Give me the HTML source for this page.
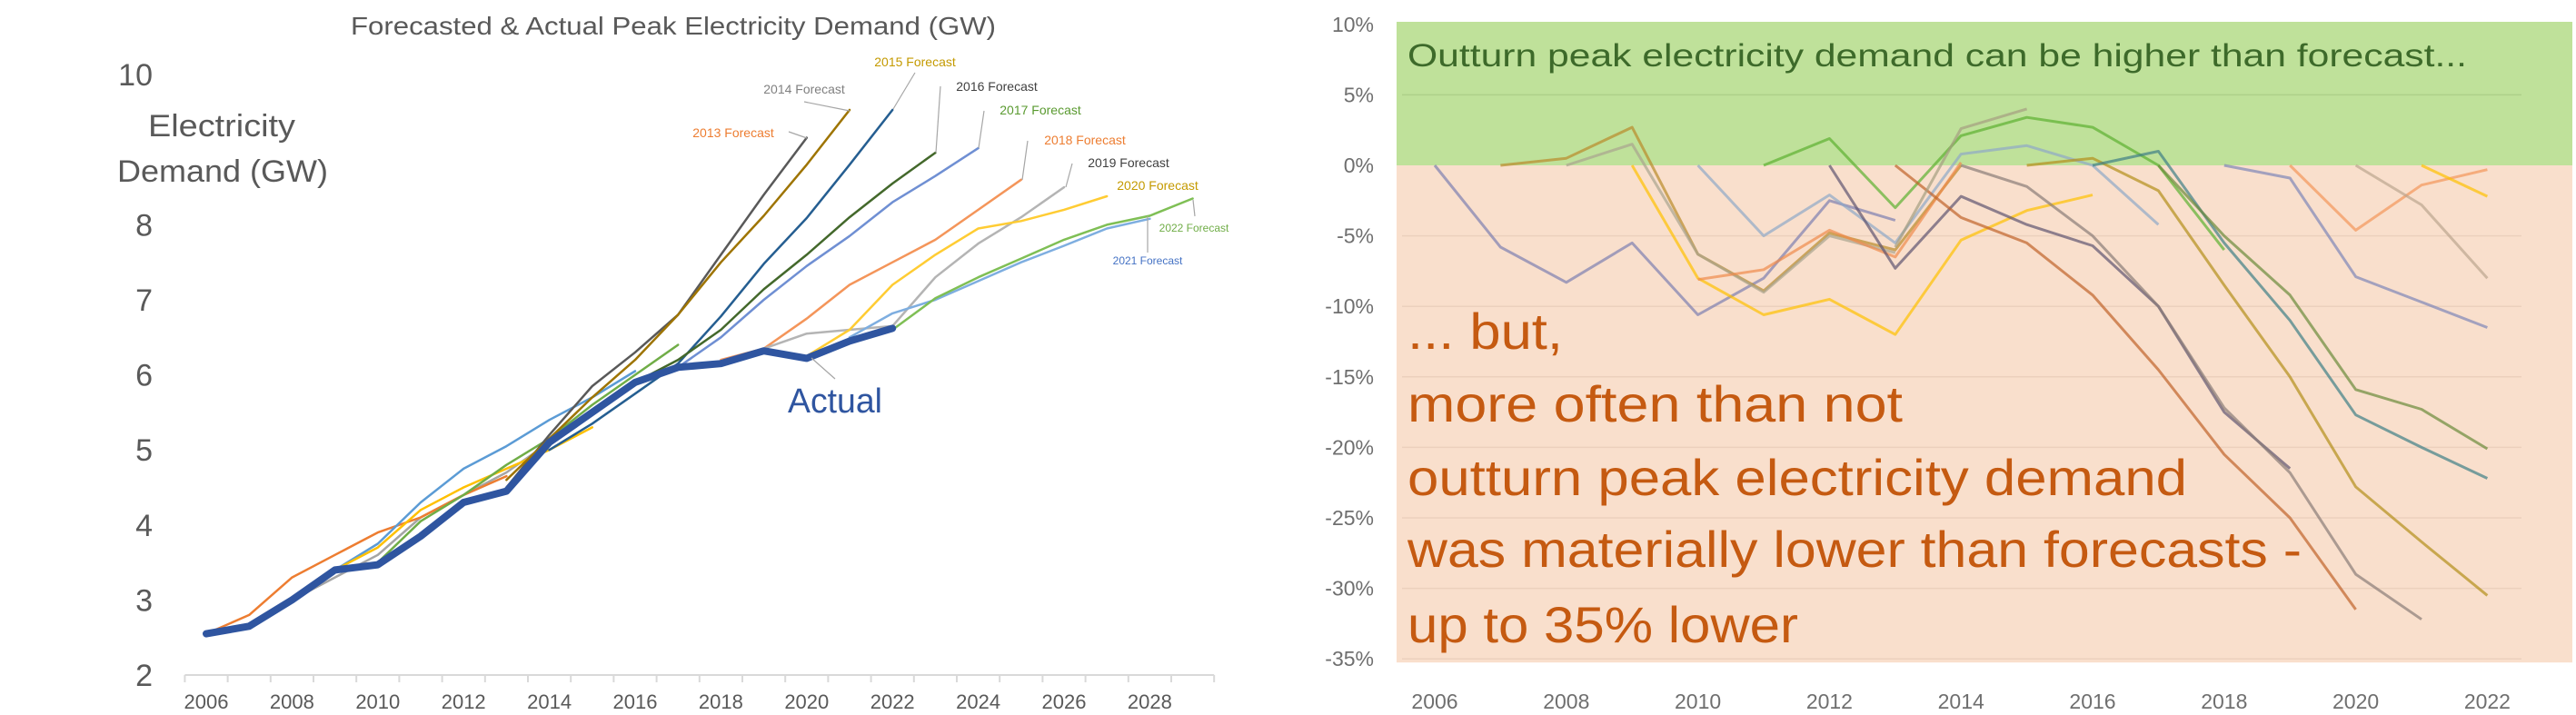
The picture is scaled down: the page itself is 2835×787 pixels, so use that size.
<!DOCTYPE html>
<html><head><meta charset="utf-8"><style>
html,body{margin:0;padding:0;background:#fff;}
svg{display:block;font-family:"Liberation Sans",sans-serif;}
</style></head><body>
<svg id="root" width="2835" height="787" viewBox="0 0 2835 787" xmlns="http://www.w3.org/2000/svg">
<g id="left">
  <text x="741" y="38" text-anchor="middle" font-size="28" fill="#595959" textLength="710" lengthAdjust="spacingAndGlyphs">Forecasted &amp; Actual Peak Electricity Demand (GW)</text>
  <text x="244" y="150" text-anchor="middle" font-size="34" fill="#595959" textLength="162" lengthAdjust="spacingAndGlyphs">Electricity</text>
  <text x="245" y="200" text-anchor="middle" font-size="34" fill="#595959" textLength="232" lengthAdjust="spacingAndGlyphs">Demand (GW)</text>
  <g id="lgrid"></g><g id="lseries"></g><g id="llabels"></g>
</g>
<g id="right">
  <g id="rbg"></g><g id="rseries"></g><g id="rlabels"></g>
</g>
</svg>
<script>
const NS='http://www.w3.org/2000/svg';
function mk(tag,attrs,parent){const e=document.createElementNS(NS,tag);for(const k in attrs)e.setAttribute(k,attrs[k]);parent.appendChild(e);return e;}

// ---------- LEFT CHART DATA ----------
const leftYears=[2006,2007,2008,2009,2010,2011,2012,2013,2014,2015,2016,2017,2018,2019,2020,2021,2022,2023,2024,2025,2026,2027,2028,2029];
const leftYTicks=[2,3,4,5,6,7,8,10];
const leftXTickLabels=[2006,2008,2010,2012,2014,2016,2018,2020,2022,2024,2026,2028];
const actualStart=2006;
const actualValues=[2.55,2.65,3.0,3.4,3.47,3.85,4.3,4.45,5.1,5.5,5.9,6.1,6.15,6.32,6.22,6.45,6.62];
const fcOrangeEarlyStart=2006, fcOrangeEarly=[2.55,2.8,3.3,3.6,3.9,4.1,4.4,4.65];
const fcLightBlueEarlyStart=2009, fcLightBlueEarly=[3.4,3.75,4.3,4.75,5.05,5.4,5.7,6.05];
const fcYellowEarlyStart=2009, fcYellowEarly=[3.4,3.7,4.2,4.5,4.75,5.0,5.3];
const fcGreenEarlyStart=2009, fcGreenEarly=[3.4,3.5,4.05,4.4,4.8,5.15,5.6,6.0,6.4];
const fcGrayEarlyStart=2008, fcGrayEarly=[3.0,3.3,3.6,4.1,4.4,4.7,5.1];
const fc2013Start=2013, fc2013=[4.5,5.2,5.85,6.3,6.8,7.6,8.4,9.16];
const fc2014Start=2013, fc2014=[4.6,5.15,5.7,6.2,6.8,7.5,8.12,8.8,9.53];
const fc2015Start=2014, fc2015=[5.0,5.35,5.75,6.15,6.78,7.48,8.09,8.8,9.53];
const fc2016Start=2016, fc2016=[5.9,6.2,6.6,7.14,7.6,8.1,8.55,8.96];
const fc2017Start=2017, fc2017=[6.1,6.5,7.0,7.45,7.85,8.3,8.65,9.02];
const fc2018Start=2018, fc2018=[6.2,6.35,6.75,7.2,7.5,7.8,8.2,8.6];
const fc2019Start=2019, fc2019=[6.35,6.55,6.6,6.65,7.3,7.75,8.1,8.5];
const fc2020Start=2020, fc2020=[6.25,6.6,7.2,7.6,7.95,8.05,8.2,8.38];
const fc2021Start=2021, fc2021=[6.5,6.82,7.0,7.25,7.5,7.72,7.95,8.08];
const fc2022Start=2022, fc2022=[6.6,7.02,7.3,7.55,7.8,8.0,8.12,8.35];

const LX0=227, LDX=47.2, LY2=743, LPER=82.6;
function lx(yr){return LX0+(yr-2006)*LDX;}
function ly(v){return LY2-(v-2)*LPER;}

const lgrid=document.getElementById('lgrid');
const axisL=mk('line',{x1:lx(2006)-LDX/2,x2:lx(2029)+LDX/2,y1:LY2,y2:LY2,stroke:'#d9d9d9','stroke-width':2},lgrid);


leftYears.concat([2030]).forEach(y=>{
  const t=mk('line',{x1:lx(y)-LDX/2,x2:lx(y)-LDX/2,y1:LY2,y2:LY2+8,stroke:'#d9d9d9','stroke-width':2},lgrid);
  
  
});
leftXTickLabels.forEach(y=>{
  const t=mk('text',{x:lx(y),y:780,'text-anchor':'middle','font-size':22,fill:'#595959'},lgrid);
  t.textContent=y;
  
  
});
leftYTicks.forEach(v=>{
  const t=mk('text',{x:168,y:ly(v)+12,'text-anchor':'end','font-size':34,fill:'#595959'},lgrid);
  t.textContent=v;
  
  
});

const lseries=document.getElementById('lseries');
function lline(start,vals,color,w,name){
  const pts=vals.map((v,i)=>lx(start+i).toFixed(1)+','+ly(v).toFixed(1)).join(' ');
  const p=mk('polyline',{points:pts,fill:'none',stroke:color,'stroke-width':w,'stroke-linejoin':'round','stroke-linecap':'round'},lseries);
  
  
}
lline(fcGrayEarlyStart,fcGrayEarly,'#a5a5a5',2.5,'forecast-early-gray-line');
lline(fcOrangeEarlyStart,fcOrangeEarly,'#ed7d31',2.5,'forecast-early-orange-line');
lline(fcLightBlueEarlyStart,fcLightBlueEarly,'#5b9bd5',2.5,'forecast-early-lightblue-line');
lline(fcYellowEarlyStart,fcYellowEarly,'#ffc000',2.5,'forecast-early-yellow-line');
lline(fcGreenEarlyStart,fcGreenEarly,'#70ad47',2.5,'forecast-early-green-line');
lline(fc2013Start,fc2013,'#595959',2.5,'forecast-2013-line');
lline(fc2014Start,fc2014,'#9e7400',2.5,'forecast-2014-line');
lline(fc2015Start,fc2015,'#255e91',2.5,'forecast-2015-line');
lline(fc2016Start,fc2016,'#43682b',2.5,'forecast-2016-line');
lline(fc2017Start,fc2017,'#6f8fd3',2.5,'forecast-2017-line');
lline(fc2018Start,fc2018,'#f4955a',2.5,'forecast-2018-line');
lline(fc2019Start,fc2019,'#b4b4b4',2.5,'forecast-2019-line');
lline(fc2020Start,fc2020,'#ffcc33',2.5,'forecast-2020-line');
lline(fc2021Start,fc2021,'#7eaee0',2.5,'forecast-2021-line');
lline(fc2022Start,fc2022,'#7fbf55',2.5,'forecast-2022-line');
lline(actualStart,actualValues,'#2f55a0',8,'actual-demand-line');

const llabels=document.getElementById('llabels');
function llabel(txt,x,y,color,size,name,lx1,ly1,lx2,ly2){
  if(lx1!==undefined){const l=mk('polyline',{points:lx1+','+ly1+' '+lx2+','+ly2,stroke:'#a6a6a6','stroke-width':1.2,fill:'none'},llabels);
    
    }
  const t=mk('text',{x:x,y:y,'text-anchor':'middle','font-size':size,fill:color},llabels);
  t.textContent=txt;
  
  
}
llabel('2015 Forecast',1007,73,'#c49a00',14,'label-2015-forecast',1007,80,983,120);
llabel('2014 Forecast',885,103,'#808080',14,'label-2014-forecast',885,112,935,122);
llabel('2016 Forecast',1097,100,'#404040',14,'label-2016-forecast',1035,95,1030,168);
llabel('2017 Forecast',1145,126,'#5a9a30',14,'label-2017-forecast',1083,122,1077,163);
llabel('2018 Forecast',1194,159,'#ed7d31',14,'label-2018-forecast',1131,155,1125,198);
llabel('2019 Forecast',1242,184,'#404040',14,'label-2019-forecast',1180,180,1173,206);
llabel('2020 Forecast',1274,209,'#c49a00',14,'label-2020-forecast');
llabel('2013 Forecast',807,151,'#ed7d31',14,'label-2013-forecast',868,145,888,152);
llabel('2022 Forecast',1314,255,'#70ad47',12,'label-2022-forecast',1313,220,1315,238);
llabel('2021 Forecast',1263,291,'#4472c4',12,'label-2021-forecast',1263,238,1263,278);
const act=mk('text',{x:919,y:454,'text-anchor':'middle','font-size':38,fill:'#2f55a0',textLength:104,lengthAdjust:'spacingAndGlyphs'},llabels);
act.textContent='Actual';


const actL=mk('polyline',{points:'919,417 893,394',stroke:'#a6a6a6','stroke-width':1.2,fill:'none'},llabels);



// ---------- RIGHT CHART DATA ----------
const rightYTicks=[10,5,0,-5,-10,-15,-20,-25,-30,-35];
const rightXTickLabels=[2006,2008,2010,2012,2014,2016,2018,2020,2022];
const sAStart=2006, sA=[0,-5.8,-8.3,-5.5,-10.6,-8,-2.5,-3.9];
const sBStart=2007, sB=[0,0.5,2.7,-6.3,-8.9,-4.8,-6,0];
const sCStart=2008, sC=[0,1.5,-6.3,-9,-5,-6.2];
const sDStart=2009, sD=[0,-8,-10.6,-9.5,-12,-5.3,-3.2,-2.1];
const sEStart=2010, sE=[0,-5,-2.1,-5.5,0.8,1.4,0,-4.2];
const sFStart=2010, sF=[-8.1,-7.4,-4.6,-6.5,0.2];
const sGStart=2011, sG=[0,1.9,-3,2.1,3.4,2.7,0,-6];
const sHStart=2012, sH=[0,-7.3,-2.2,-4.2,-5.7,-10,-17.5,-21.5];
const sIStart=2013, sI=[0,-3.7,-5.5,-9.2,-14.5,-20.5,-25,-31.5];
const sJStart=2014, sJ=[0,-1.5,-5,-10,-17.2,-21.8,-29,-32.2];
const sKStart=2015, sK=[0,0.5,-1.8,-8.5,-15,-22.8,-26.7,-30.5];
const sLStart=2016, sL=[0,1,-5.5,-11,-17.7,-20,-22.2];
const sMStart=2017, sM=[0,-5,-9.2,-15.9,-17.3,-20.1];
const sNStart=2018, sN=[0,-0.9,-7.9,-9.7,-11.5];
const sOStart=2019, sO=[0,-4.6,-1.4,-0.3];
const sPStart=2020, sP=[0,-2.8,-8];
const sQStart=2021, sQ=[0,-2.2];
const sRStart=2013, sR=[-5.8,2.6,4.0];

const RX0=1579, RDX=72.4, RY0=182, RPER=15.52;
function rx(yr){return RX0+(yr-2006)*RDX;}
function ry(v){return RY0-v*RPER;}

const rbg=document.getElementById('rbg');
const gb=mk('rect',{x:1537,y:24,width:1294,height:RY0-24,fill:'#bfe19a'},rbg);


const pb=mk('rect',{x:1537,y:RY0,width:1294,height:ry(-35)+4-RY0,fill:'#f9dfcc'},rbg);


rightYTicks.forEach(v=>{
  if(v!==0&&v!==10){const g=mk('line',{x1:1543,x2:2775,y1:ry(v),y2:ry(v),stroke:v>0?'#aed08a':'#ecd0bd','stroke-width':1.5},rbg);
    
    }
  const t=mk('text',{x:1512,y:ry(v)+8,'text-anchor':'end','font-size':23,fill:'#6f6f6f'},rbg);
  t.textContent=v+'%';
  
  
});
rightXTickLabels.forEach(y=>{
  const t=mk('text',{x:rx(y),y:780,'text-anchor':'middle','font-size':23,fill:'#6f6f6f'},rbg);
  t.textContent=y;
  
  
});

const rseries=document.getElementById('rseries');
function rline(start,vals,color,name){
  const pts=vals.map((v,i)=>rx(start+i).toFixed(1)+','+ry(v).toFixed(1)).join(' ');
  const p=mk('polyline',{points:pts,fill:'none',stroke:color,'stroke-width':3,'stroke-opacity':0.7,'stroke-linejoin':'round'},rseries);
  
  
}
rline(sAStart,sA,'#7d7fb0','error-series-a');
rline(sBStart,sB,'#b98a2a','error-series-b');
rline(sCStart,sC,'#a9a48e','error-series-c');
rline(sDStart,sD,'#ffc000','error-series-d');
rline(sEStart,sE,'#8ea8c8','error-series-e');
rline(sFStart,sF,'#f08a4b','error-series-f');
rline(sGStart,sG,'#5cb030','error-series-g');
rline(sHStart,sH,'#5f5470','error-series-h');
rline(sIStart,sI,'#c0622a','error-series-i');
rline(sJStart,sJ,'#8a7c78','error-series-j');
rline(sKStart,sK,'#b48f1a','error-series-k');
rline(sLStart,sL,'#3e7f86','error-series-l');
rline(sMStart,sM,'#6b8a3a','error-series-m');
rline(sNStart,sN,'#7f86b8','error-series-n');
rline(sOStart,sO,'#f4955a','error-series-o');
rline(sPStart,sP,'#bca58e','error-series-p');
rline(sQStart,sQ,'#ffc000','error-series-q');
rline(sRStart,sR,'#a59e80','error-series-r');

const rl=document.getElementById('rlabels');
const gt=mk('text',{x:1549,y:73,'font-size':35,fill:'#3d6a2a',textLength:1166,lengthAdjust:'spacingAndGlyphs'},rl);
gt.textContent='Outturn peak electricity demand can be higher than forecast...';


const olines=[['... but,',364,171],['more often than not',444,545],['outturn peak electricity demand',525,858],['was materially lower than forecasts -',604,984],['up to 35% lower',687,430]];
olines.forEach(o=>{
  const t=mk('text',{x:1549,y:o[1]+20,'font-size':56,fill:'#c55a11',textLength:o[2],lengthAdjust:'spacingAndGlyphs'},rl);
  t.textContent=o[0];
  
  
});
</script>
</body></html>
